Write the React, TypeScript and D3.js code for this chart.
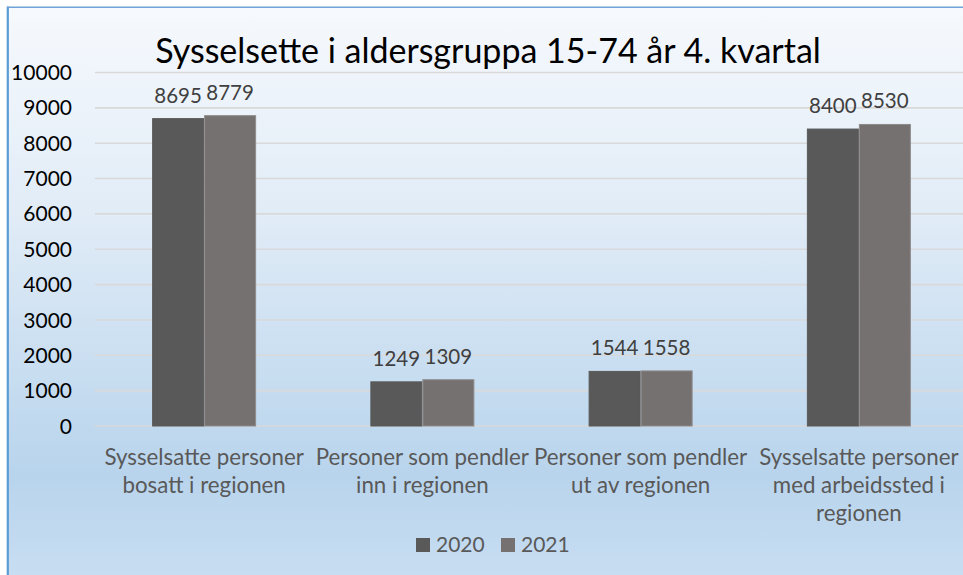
import React from "react";
import * as d3 from "d3";

const categories = [
  ["Sysselsatte personer", "bosatt i regionen"],
  ["Personer som pendler", "inn i regionen"],
  ["Personer som pendler", "ut av regionen"],
  ["Sysselsatte personer", "med arbeidssted i", "regionen"],
];
const seriesNames = ["2020", "2021"];
const values2020 = [8695, 1249, 1544, 8400];
const values2021 = [8779, 1309, 1558, 8530];
const yTicks = [0, 1000, 2000, 3000, 4000, 5000, 6000, 7000, 8000, 9000, 10000];
const title = "Sysselsette i aldersgruppa 15-74 år 4. kvartal";

const colors = ["#595959", "#767171"];
const strokes = ["#595959", "#8f8b8b"];
const FONT = "Lato, 'Noto Sans', sans-serif";

export default function App() {
  const W = 963, H = 575;
  const left = 95, right = 968;
  const y = d3.scaleLinear().domain([0, 10000]).range([426, 72.5]);
  const idx = categories.map((_, i) => i);
  const x0 = d3.scaleBand<number>().domain(idx).range([left, right]).paddingInner(0.5235).paddingOuter(0.5235 / 2);
  const x1 = d3.scaleBand<number>().domain([0, 1]).range([0, x0.bandwidth()]);
  const series = [values2020, values2021];

  return (
    <svg width={W} height={H} style={{ position: "absolute", left: 0, top: 0, display: "block" }} fontFamily={FONT}>
      <defs>
        <linearGradient id="bg" x1="0" y1="0" x2="0" y2="1">
          <stop offset="0" stopColor="#f6f9fd" />
          <stop offset="0.35" stopColor="#e1ecf7" />
          <stop offset="0.8" stopColor="#b8d4ec" />
          <stop offset="1" stopColor="#cadff3" />
        </linearGradient>
      </defs>
      <rect x={0} y={0} width={W} height={H} fill="#ffffff" />
      <rect x={7.8} y={7.3} width={W + 10} height={H + 10} fill="url(#bg)" />
      <line x1={7.8} x2={7.8} y1={6.5} y2={H} stroke="#5b9bd5" strokeWidth={2.2} />
      <line x1={7} x2={W} y1={7.3} y2={7.3} stroke="#6fa3d6" strokeWidth={1.4} />

      <text x={488} y={63} textAnchor="middle" fontSize={34} fill="#000000">{title}</text>

      {yTicks.map((t) => (
        <g key={t}>
          <line x1={left} x2={W} y1={y(t)} y2={y(t)} stroke="#d9d9d9" strokeWidth={1.6} />
          <text x={72} y={y(t)} dy="0.36em" textAnchor="end" fontSize={21} fill="#000000">{t}</text>
        </g>
      ))}

      {idx.map((i) => (
        <g key={i} transform={`translate(${x0(i)},0)`}>
          {series.map((vals, s) => (
            <g key={s}>
              <rect
                x={x1(s)! + 0.5}
                y={y(vals[i])}
                width={x1.bandwidth() - 1}
                height={y(0) - y(vals[i])}
                fill={colors[s]}
                stroke={strokes[s]}
                strokeWidth={1}
              />
              <text
                x={x1(s)! + x1.bandwidth() / 2}
                y={y(vals[i]) - 16}
                textAnchor="middle"
                fontSize={20.5}
                fill="#404040"
              >
                {vals[i]}
              </text>
            </g>
          ))}
          <text textAnchor="middle" fontSize={22.3} fill="#595959">
            {categories[i].map((line, k) => (
              <tspan key={k} x={x0.bandwidth() / 2} y={465 + k * 28}>{line}</tspan>
            ))}
          </text>
        </g>
      ))}

      {seriesNames.map((name, s) => (
        <g key={name} transform={`translate(${416 + s * 85},0)`}>
          <rect x={0} y={538} width={14} height={14} fill={colors[s]} />
          <text x={20} y={552} fontSize={21} fill="#595959">{name}</text>
        </g>
      ))}
    </svg>
  );
}
